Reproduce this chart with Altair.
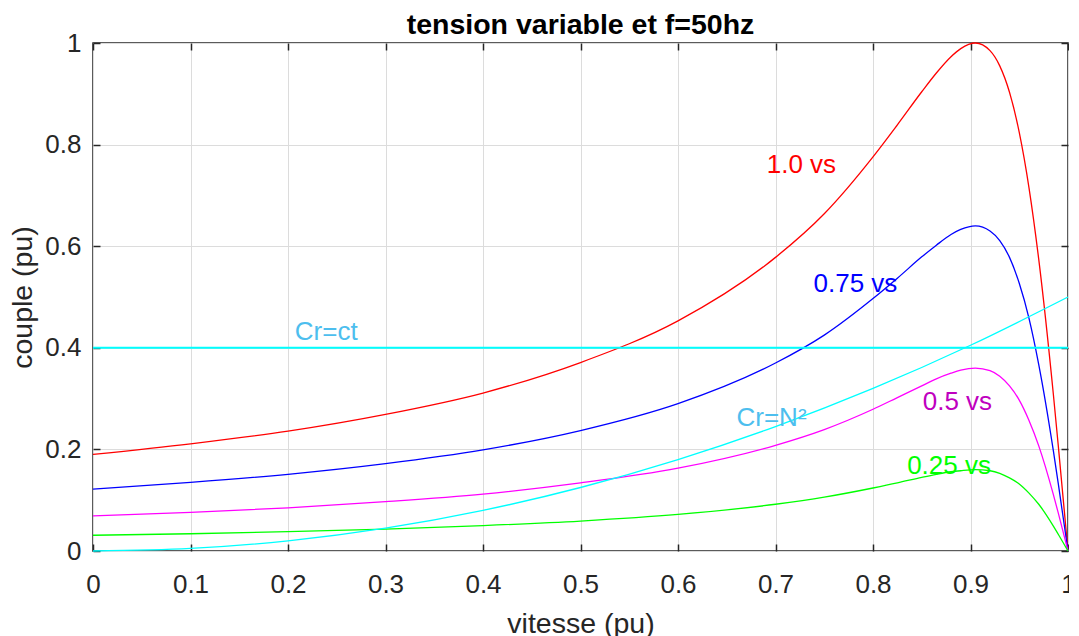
import altair as alt
import pandas as pd

# ---- data ----
speed = [0, 0.1, 0.2, 0.3, 0.4, 0.5, 0.6, 0.7, 0.75, 0.8, 0.825, 0.85, 0.865,
         0.88, 0.89, 0.905, 0.92, 0.93, 0.94, 0.95, 0.96, 0.97, 0.985, 0.99, 1.0]
couple_100 = [0.190, 0.211, 0.236, 0.269, 0.311, 0.371, 0.453, 0.578, 0.664, 0.776,
              0.839, 0.904, 0.941, 0.973, 0.989, 1.000, 0.985, 0.955, 0.903, 0.824,
              0.715, 0.574, 0.308, 0.208, 0.000]
couple_075 = [0.122, 0.135, 0.151, 0.172, 0.199, 0.237, 0.290, 0.370, 0.425, 0.497,
              0.537, 0.579, 0.602, 0.623, 0.633, 0.640, 0.630, 0.611, 0.578, 0.527,
              0.458, 0.367, 0.197, 0.133, 0.000]
couple_050 = [0.069, 0.076, 0.085, 0.097, 0.112, 0.134, 0.163, 0.208, 0.239, 0.279,
              0.302, 0.325, 0.339, 0.350, 0.356, 0.360, 0.355, 0.344, 0.325, 0.297,
              0.257, 0.207, 0.111, 0.075, 0.000]
couple_025 = [0.031, 0.034, 0.038, 0.043, 0.050, 0.059, 0.072, 0.092, 0.106, 0.124,
              0.134, 0.145, 0.151, 0.156, 0.158, 0.160, 0.158, 0.153, 0.144, 0.132,
              0.114, 0.092, 0.049, 0.033, 0.000]
series_names = ["1.0 vs", "0.75 vs", "0.5 vs", "0.25 vs"]
series_colors = ["#ff0000", "#0000ff", "#ff00ff", "#00ff00"]

n2_speed = [0, 0.1, 0.2, 0.3, 0.4, 0.5, 0.6, 0.7, 0.8, 0.9, 1.0]
n2_couple = [0, 0.005, 0.02, 0.045, 0.08, 0.125, 0.18, 0.245, 0.32, 0.405, 0.5]

ct_speed = [0, 1]
ct_couple = [0.4, 0.4]

label_text = ["1.0 vs", "0.75 vs", "Cr=ct", "Cr=N²", "0.5 vs", "0.25 vs"]
label_x = [0.691, 0.739, 0.207, 0.660, 0.851, 0.835]
label_y = [0.759, 0.525, 0.432, 0.261, 0.294, 0.168]
label_color = ["#ff0000", "#0000ff", "#4dbeee", "#4dbeee", "#bf00bf", "#00ff00"]

FONT = "Liberation Sans"
INK = "#262626"

rows = []
for name, vals in zip(series_names, [couple_100, couple_075, couple_050, couple_025]):
    for s, c in zip(speed, vals):
        rows.append({"vitesse": s, "couple": c, "serie": name})
curves = pd.DataFrame(rows)
n2 = pd.DataFrame({"vitesse": n2_speed, "couple": n2_couple})
ct = pd.DataFrame({"vitesse": ct_speed, "couple": ct_couple})
labels = pd.DataFrame({"vitesse": label_x, "couple": label_y,
                       "txt": label_text, "col": label_color})

xscale = alt.Scale(domain=[0, 1], nice=False, zero=False)
yscale = alt.Scale(domain=[0, 1], nice=False, zero=False)
tick_vals = [i / 10 for i in range(11)]
ytick_vals = [0, 0.2, 0.4, 0.6, 0.8, 1.0]

x_main = alt.X("vitesse:Q", scale=xscale, title="vitesse (pu)",
               axis=alt.Axis(values=tick_vals, format=".1~f", offset=-7, tickSize=7,
                             tickColor=INK, tickWidth=1.5, domain=False, grid=True,
                             labelPadding=20, titlePadding=12, labelFlush=False))
y_main = alt.Y("couple:Q", scale=yscale, title="couple (pu)",
               axis=alt.Axis(values=ytick_vals, format=".1~f", offset=-7, tickSize=7,
                             tickColor=INK, tickWidth=1.5, domain=False, grid=True,
                             labelPadding=12, titlePadding=7, labelFlush=False))

lines = alt.Chart(curves).mark_line(strokeWidth=1.3, interpolate="monotone").encode(
    x=x_main, y=y_main,
    color=alt.Color("serie:N", scale=alt.Scale(domain=series_names, range=series_colors),
                    legend=None),
)

ctline = alt.Chart(ct).mark_line(strokeWidth=2, color="#00ffff").encode(
    x=alt.X("vitesse:Q", scale=xscale, axis=None),
    y=alt.Y("couple:Q", scale=yscale, axis=None),
)

n2line = alt.Chart(n2).mark_line(strokeWidth=1.3, color="#00ffff", interpolate="monotone").encode(
    x=alt.X("vitesse:Q", scale=xscale, axis=None),
    y=alt.Y("couple:Q", scale=yscale, axis=None),
)

texts = alt.Chart(labels).mark_text(align="left", baseline="middle", fontSize=26, font=FONT).encode(
    x=alt.X("vitesse:Q", scale=xscale, title=None,
            axis=alt.Axis(orient="top", values=tick_vals, labels=False, offset=-7, tickSize=7,
                          tickColor=INK, tickWidth=1.5, domain=False, grid=False)),
    y=alt.Y("couple:Q", scale=yscale, title=None,
            axis=alt.Axis(orient="right", values=ytick_vals, labels=False, offset=-7, tickSize=7,
                          tickColor=INK, tickWidth=1.5, domain=False, grid=False)),
    text="txt:N",
    color=alt.Color("col:N", scale=None),
)

chart = alt.layer(lines, ctline, n2line, texts).resolve_axis(
    x="independent", y="independent"
).properties(
    width=975, height=508,
    padding={"left": 0, "top": 2, "right": -7, "bottom": 0},
    title=alt.Title("tension variable et f=50hz", fontSize=28.5, fontWeight="bold",
                    font=FONT, color="#000000", anchor="middle", offset=-9),
).configure_view(stroke=INK, strokeWidth=1.5).configure_axis(
    labelFont=FONT, labelFontSize=26, labelColor=INK,
    titleFont=FONT, titleFontSize=28.5, titleColor=INK, titleFontWeight="normal",
    gridColor="#dcdcdc", gridWidth=1,
)

chart.save("out.html", embed_options={"renderer": "svg", "actions": False})
